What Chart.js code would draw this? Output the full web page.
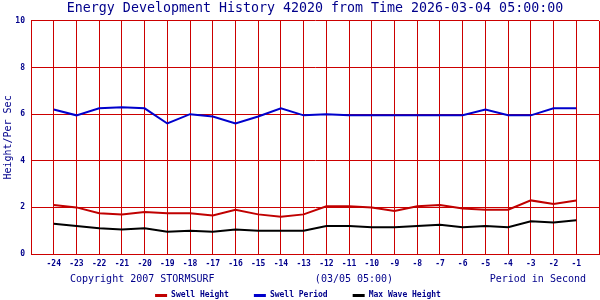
<!DOCTYPE html>
<html>
<head>
<meta charset="utf-8">
<script src="https://cdn.jsdelivr.net/npm/chart.js@4.4.0/dist/chart.umd.min.js"></script>
<style>
  html, body { margin: 0; padding: 0; background: #fff; }
  #wrap { width: 600px; height: 300px; }
</style>
</head>
<body>
<div id="wrap"><canvas id="waveChart" width="600" height="300"></canvas></div>
<script>
// hours back from the run time
var hours = [-24, -23, -22, -21, -20, -19, -18, -17, -16, -15, -14, -13,
             -12, -11, -10, -9, -8, -7, -6, -5, -4, -3, -2, -1];

// values
var swellHeight = [2.1, 2.0, 1.75, 1.7, 1.8, 1.75, 1.75, 1.65, 1.9, 1.7, 1.6, 1.7,
                   2.05, 2.05, 2.0, 1.85, 2.05, 2.1, 1.95, 1.9, 1.9, 2.3, 2.15, 2.3];
var swellPeriod = [6.2, 5.95, 6.25, 6.3, 6.25, 5.6, 6.0, 5.9, 5.6, 5.9, 6.25, 5.95,
                   6.0, 5.95, 5.95, 5.95, 5.95, 5.95, 5.95, 6.2, 5.95, 5.95, 6.25, 6.25];
var maxWaveHeight = [1.3, 1.2, 1.1, 1.05, 1.1, 0.95, 1.0, 0.95, 1.05, 1.0, 1.0, 1.0,
                     1.2, 1.2, 1.15, 1.15, 1.2, 1.25, 1.15, 1.2, 1.15, 1.4, 1.35, 1.45];

var titleText = 'Energy Development History 42020 from Time 2026-03-04 05:00:00';
var yTitle = 'Height/Per Sec';
var footLeft = 'Copyright 2007 STORMSURF';
var footMid = '(03/05 05:00)';
var footRight = 'Period in Second';

var navy = '#00008B';
var gridRed = '#CC0000';
var mono = "'DejaVu Sans Mono', 'Liberation Mono', monospace";

Chart.defaults.font.family = mono;
Chart.defaults.color = navy;

function toPoints(vals) {
  return hours.map(function(h, i) { return { x: h, y: vals[i] }; });
}

// footer row + hand drawn legend (the stock one spaces items oddly)
var footerPlugin = {
  id: 'footer',
  afterDraw: function(chart) {
    var ctx = chart.ctx;
    ctx.save();
    ctx.fillStyle = navy;
    ctx.font = '10px ' + mono;
    ctx.textBaseline = 'middle';
    ctx.textAlign = 'left';
    ctx.fillText(footLeft, 70, 279);
    ctx.textAlign = 'center';
    ctx.fillText(footMid, 354, 279);
    ctx.textAlign = 'right';
    ctx.fillText(footRight, 586, 279);

    ctx.font = 'bold 8px ' + mono;
    ctx.textAlign = 'left';
    var gap = 25, box = 12;
    var widths = chart.data.datasets.map(function(ds) {
      return box + 4 + ctx.measureText(ds.label).width;
    });
    var total = widths.reduce(function(a, b) { return a + b; }, 0) + gap * (widths.length - 1);
    var x = 298 - total / 2;
    chart.data.datasets.forEach(function(ds, i) {
      ctx.fillStyle = ds.borderColor;
      ctx.fillRect(x, 294, box, 3);
      ctx.fillStyle = navy;
      ctx.fillText(ds.label, x + box + 4, 295);
      x += widths[i] + gap;
    });
    ctx.restore();
  }
};

var waveChart = new Chart(document.getElementById('waveChart'), {
  type: 'line',
  data: {
    datasets: [{
      label: 'Swell Height',
      data: toPoints(swellHeight),
      borderColor: '#C00000',
      backgroundColor: '#C00000',
      borderWidth: 2
    }, {
      label: 'Swell Period',
      data: toPoints(swellPeriod),
      borderColor: '#0000CC',
      backgroundColor: '#0000CC',
      borderWidth: 2
    }, {
      label: 'Max Wave Height',
      data: toPoints(maxWaveHeight),
      borderColor: '#000000',
      backgroundColor: '#000000',
      borderWidth: 2
    }]
  },
  options: {
    responsive: false,
    animation: false,
    devicePixelRatio: 1,
    elements: { point: { radius: 0 }, line: { tension: 0 } },
    layout: { padding: { top: 0, left: 0, right: 1, bottom: 30 } },
    plugins: {
      legend: { display: false },
      tooltip: { enabled: false },
      title: {
        display: true,
        fullSize: false,
        text: titleText,
        color: navy,
        font: { size: 13.3, weight: 'normal', lineHeight: 1.2 },
        padding: { top: 1, bottom: 4 }
      }
    },
    scales: {
      x: {
        type: 'linear',
        min: -25,
        max: 0,
        afterFit: function(s) {
          s.height = 16;
          s.paddingLeft = 0;
          s.paddingRight = 0;
        },
        grid: { color: gridRed, drawTicks: false, lineWidth: 1 },
        border: { color: gridRed },
        ticks: {
          stepSize: 1,
          autoSkip: false,
          maxRotation: 0,
          padding: 5,
          color: navy,
          font: { size: 8, weight: 'bold' },
          callback: function(v) { return (v === -25 || v === 0) ? '' : v; }
        }
      },
      y: {
        min: 0,
        max: 10,
        afterFit: function(s) { s.width = 31; },
        grid: { color: gridRed, drawTicks: false, lineWidth: 1 },
        border: { color: gridRed },
        ticks: {
          stepSize: 2,
          padding: 6,
          color: navy,
          font: { size: 8, weight: 'bold' }
        },
        title: {
          display: true,
          text: yTitle,
          color: navy,
          font: { size: 10, weight: 'normal' },
          padding: { top: 2, bottom: 0 }
        }
      }
    }
  },
  plugins: [footerPlugin]
});
</script>
</body>
</html>
